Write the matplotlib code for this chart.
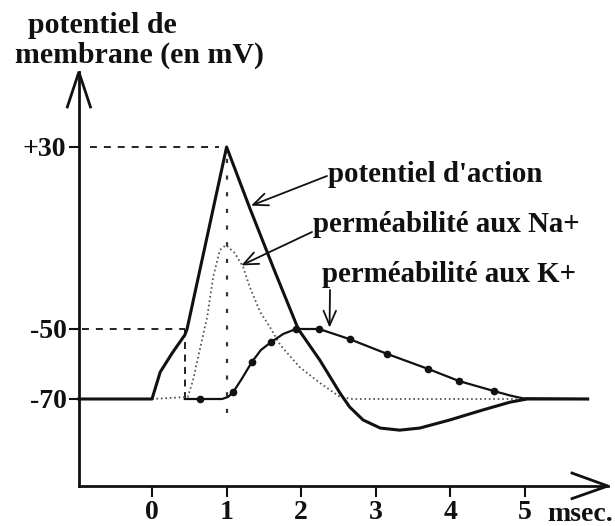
import numpy as np
import matplotlib
matplotlib.use("Agg")
import matplotlib.pyplot as plt

plt.rcParams['font.family'] = ['Liberation Serif', 'DejaVu Serif']
plt.rcParams['font.weight'] = 'bold'
plt.rcParams['lines.scale_dashes'] = False

# ---------------- data (time in ms, schematic membrane potential in mV) -------------
t_ap = [-0.98, 0.0, 0.11, 0.27, 0.44, 0.47, 1.0, 1.31, 1.65, 1.96, 2.25, 2.52,
        2.65, 2.83, 3.06, 3.32, 3.59, 3.99, 4.44, 4.80, 5.03, 5.84]
mv_ap = [-70, -70, -62.3, -56.9, -51.7, -50, 30, 3.2, -25, -50, -58.9, -68.3,
         -72.3, -76, -78.3, -78.9, -78.3, -76, -73.1, -70.9, -70, -70]

t_na = [0.0, 0.48, 0.55, 0.64, 0.74, 0.82, 0.91, 0.99, 1.11, 1.22, 1.31, 1.45,
        1.58, 1.72, 1.98, 2.25, 2.52, 2.69, 4.89]
na = [-70, -69.4, -64.6, -56, -44.7, -27.1, -15.3, -13.1, -16.6, -22.7, -31.5,
      -42.5, -49.1, -54.6, -60.9, -65.4, -69.4, -70, -70]

t_k = [0.44, 0.64, 0.94, 1.02, 1.09, 1.21, 1.34, 1.46, 1.60, 1.76, 1.93, 2.24,
       2.65, 3.15, 3.70, 4.12, 4.58, 4.80, 4.97, 5.84]
k = [-70, -70, -70, -69.4, -68, -64, -59.4, -56, -53.7, -51.4, -50, -50,
     -52.9, -57.1, -61.4, -64.9, -67.7, -69, -69.8, -70]
k_dot_idx = [1, 4, 6, 8, 10, 11, 12, 13, 14, 15, 16]

x_ticks = [0, 1, 2, 3, 4, 5]
x_ticklabels = ['0', '1', '2', '3', '4', '5']
y_ticks = [-70, -50, 30]
y_ticklabels = ['-70', '-50', '+30']
threshold = -50
rest = -70

# ---------------- schematic (piecewise linear) potential axis ----------------
MV_ANCH = [-300.0, -70.0, -50.0, 30.0, 300.0]
U_ANCH = [127 - 230 * 3.5, 127.0, 197.0, 379.0, 379 + 270 * 2.275]


def fwd(v):
    return np.interp(v, MV_ANCH, U_ANCH)


def inv(u):
    return np.interp(u, U_ANCH, MV_ANCH)


W, H = 615, 526
fig = plt.figure(figsize=(W / 100, H / 100), dpi=100)
ax = fig.add_axes([0, 0, 1, 1])
ax.set_yscale('function', functions=(fwd, inv))
ax.set_xlim(-152 / 74.6, (W - 152) / 74.6)
ax.set_ylim(float(inv(0)), float(inv(H)))

INK = '#111111'
X0 = -0.98          # position of potential axis (ms)
Y0 = -94.86         # position of time axis (mV)
YTOP = 62.97
XEND = 6.11

for s in ['top', 'right']:
    ax.spines[s].set_visible(False)
for s in ['left', 'bottom']:
    ax.spines[s].set_linewidth(2.0)
    ax.spines[s].set_color(INK)
ax.spines['left'].set_position(('data', X0))
ax.spines['bottom'].set_position(('data', Y0))
ax.spines['left'].set_bounds(Y0, YTOP)
ax.spines['bottom'].set_bounds(X0, XEND)

ax.set_xticks(x_ticks)
ax.set_xticklabels(x_ticklabels)
ax.set_yticks(y_ticks)
ax.set_yticklabels(y_ticklabels)
ax.set_yticks([], minor=True)
ax.set_xticks([], minor=True)
ax.tick_params(axis='x', direction='out', length=8, width=1.5, pad=2,
               labelsize=20, colors=INK)
ax.tick_params(axis='y', direction='out', length=7, width=1.5, pad=2,
               labelsize=20, colors=INK)

# open arrow heads of the axes
ax.plot([X0 - 0.155, X0, X0 + 0.155], [47.6, YTOP, 47.6], color=INK, lw=2.0,
        solid_joinstyle='miter', clip_on=False)
ax.plot([XEND - 0.48, XEND, XEND - 0.48], [Y0 + 3.7, Y0, Y0 - 3.6], color=INK,
        lw=2.0, solid_joinstyle='miter', clip_on=False)

# reference lines
peak = max(mv_ap)
t_peak = t_ap[mv_ap.index(peak)]
t_thr = t_k[0]
ax.hlines(peak, -0.83, t_peak - 0.1, colors=INK, lw=1.3, linestyles=(0, (5, 5)))
ax.hlines(threshold, -0.94, t_thr, colors=INK, lw=1.3, linestyles=(0, (5, 5)))
ax.vlines(t_thr, rest, threshold, colors=INK, lw=1.3, linestyles=(0, (5, 4)))
ax.vlines(t_peak, -74, peak, colors='#333333', lw=1.6, linestyles=(0, (3, 9)))

# curves
ax.plot(t_na, na, color='#555555', lw=1.3, linestyle=(0, (1.2, 2.0)))
ax.plot(t_k, k, color=INK, lw=1.6)
ax.plot([t_k[i] for i in k_dot_idx], [k[i] for i in k_dot_idx], 'o',
        color=INK, ms=4.5)
ax.plot(t_ap, mv_ap, color=INK, lw=2.2, solid_joinstyle='round')


def P(px, py):
    return (px / W, 1 - py / H)


FS = 21.5
FS_ANN = 20.8
fig.text(*P(28, 33), 'potentiel de', fontsize=FS, ha='left', va='baseline', color=INK)
fig.text(*P(15, 63), 'membrane (en mV)', fontsize=FS, ha='left', va='baseline', color=INK)
fig.text(*P(547, 521), 'msec.', fontsize=20, ha='left', va='baseline', color=INK)

labels = [
    ("potentiel d'action", P(328, 182), (1.31, 4.0), P(327, 176)),
    ("perméabilité aux Na+", P(313, 232), (1.18, -22.3), P(312, 232)),
    ("perméabilité aux K+", P(322, 282), (2.38, -50.0), P(330, 290)),
]
for txt, tpos, target, start in labels:
    fig.text(*tpos, txt, fontsize=FS_ANN, ha='left', va='baseline', color=INK)
    ax.annotate('', xy=target, xycoords='data', xytext=start,
                textcoords='axes fraction',
                arrowprops=dict(arrowstyle='->,head_length=0.7,head_width=0.3',
                                lw=1.3, color=INK, mutation_scale=15,
                                shrinkA=0, shrinkB=1))

fig.savefig('out.png', dpi=100, facecolor='white')
